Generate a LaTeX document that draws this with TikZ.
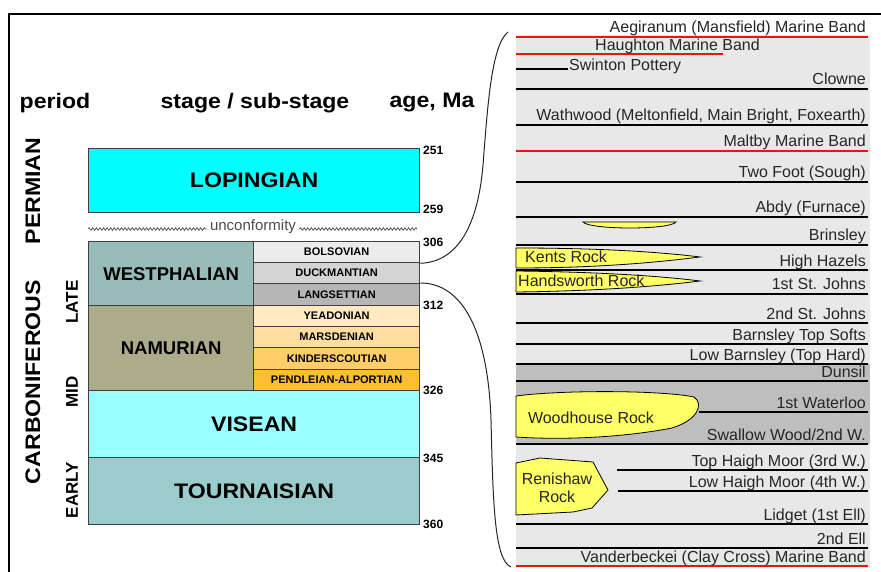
\documentclass[tikz,border=0pt]{standalone}
\usepackage{fontspec}
\setmainfont{Liberation Sans}
\newfontfamily\widefont[FakeStretch=1.1]{Liberation Sans}
\usetikzlibrary{decorations.pathmorphing}

\definecolor{lopcyan}{RGB}{0,255,255}
\definecolor{westgrey}{RGB}{152,188,186}
\definecolor{namkhaki}{RGB}{172,172,138}
\definecolor{viscyan}{RGB}{153,255,255}
\definecolor{tourgrey}{RGB}{155,204,204}
\definecolor{bolsgrey}{RGB}{236,236,236}
\definecolor{duckgrey}{RGB}{212,212,212}
\definecolor{langgrey}{RGB}{182,182,182}
\definecolor{yeadbuff}{RGB}{255,234,192}
\definecolor{marsbuff}{RGB}{255,222,160}
\definecolor{kindbuff}{RGB}{255,206,104}
\definecolor{pendbuff}{RGB}{255,190,52}
\definecolor{panelgrey}{RGB}{232,232,232}
\definecolor{bandgrey}{RGB}{190,190,190}
\definecolor{rockyellow}{RGB}{255,255,102}
\definecolor{bandred}{RGB}{235,20,20}

\tikzset{
  stagebox/.style={draw=black!75, line width=1.3pt, inner sep=0pt, anchor=north west,
    font=\widefont\fontsize{21}{24}\selectfont\bfseries},
  halfbox/.style={stagebox, minimum width=165pt, font=\fontsize{18.5}{21}\selectfont\bfseries},
  subbox/.style={stagebox, minimum width=166pt, font=\fontsize{11}{12}\selectfont\bfseries},
  agelbl/.style={anchor=west, inner sep=0pt, font=\fontsize{12}{13}\selectfont\bfseries},
  headlbl/.style={font=\widefont\fontsize{21}{24}\selectfont\bfseries},
  periodlbl/.style={rotate=90, font=\widefont\fontsize{21}{24}\selectfont\bfseries},
  epochlbl/.style={rotate=90, font=\fontsize{17}{19}\selectfont\bfseries},
  seam/.style={line width=1.8pt},
  seamlbl/.style={anchor=base east, inner sep=0pt, text=black!85, font=\fontsize{16}{18}\selectfont},
  rock/.style={draw=black, line width=0.8pt, fill=rockyellow},
  rocklbl/.style={inner sep=0pt, text=black!85, font=\fontsize{16}{18}\selectfont},
  brace/.style={line width=1pt, black!85}
}

\begin{document}
\begin{tikzpicture}[x=1pt, y=-1pt]
\useasboundingbox (0,0) rectangle (881,572);
\draw[line width=2.2pt] (9,572) -- (9,14) -- (881,14);

% headings
\node[headlbl] (hper) at (55,103) {period};
\node[headlbl] (hstage) at (255,103) {stage / sub-stage};
\node[headlbl] (hage) at (432,103) {age, Ma};

\node[periodlbl] (perm) at (33,191) {PERMIAN};
\node[periodlbl] (carb) at (33,382) {CARBONIFEROUS};
\node[epochlbl] (late) at (72,302) {LATE};
\node[epochlbl] (mid) at (72,392) {MID};
\node[epochlbl] (early) at (72,490) {EARLY};

% stages
\node[stagebox, fill=lopcyan, minimum width=331pt, minimum height=64pt] (lop) at (88,148) {LOPINGIAN};
\node[halfbox, fill=westgrey, minimum height=64pt] (west) at (88,241) {WESTPHALIAN};
\node[halfbox, fill=namkhaki, minimum height=85pt] (nam) at (88,305) {NAMURIAN};
\node[stagebox, fill=viscyan, minimum width=331pt, minimum height=67pt] (vis) at (88,390) {VISEAN};
\node[stagebox, fill=tourgrey, minimum width=331pt, minimum height=67pt] (tour) at (88,457) {TOURNAISIAN};

\node[subbox, fill=bolsgrey, minimum height=21pt] (bols) at (253,241) {BOLSOVIAN};
\node[subbox, fill=duckgrey, minimum height=21pt] (duck) at (253,262) {DUCKMANTIAN};
\node[subbox, fill=langgrey, minimum height=22pt] (lang) at (253,283) {LANGSETTIAN};
\node[subbox, fill=yeadbuff, minimum height=21pt] (yead) at (253,305) {YEADONIAN};
\node[subbox, fill=marsbuff, minimum height=21pt] (mars) at (253,326) {MARSDENIAN};
\node[subbox, fill=kindbuff, minimum height=22pt] (kind) at (253,347) {KINDERSCOUTIAN};
\node[subbox, fill=pendbuff, minimum height=21pt] (pend) at (253,369) {PENDLEIAN-ALPORTIAN};

% unconformity
\node[text=black!70, font=\fontsize{15}{16}\selectfont] (unconf) at (253,227) {unconformity};
\draw[black!70, line width=0.7pt, decorate, decoration={snake, amplitude=1.3pt, segment length=3.6pt}]
  (88,229) -- (unconf.west |- 0,229);
\draw[black!70, line width=0.7pt, decorate, decoration={snake, amplitude=1.3pt, segment length=3.6pt}]
  (unconf.east |- 0,229) -- (417,229);

% ages
\node[agelbl] (a251) at (423,150) {251};
\node[agelbl] (a259) at (423,209) {259};
\node[agelbl] (a306) at (423,242) {306};
\node[agelbl] (a312) at (423,305) {312};
\node[agelbl] (a326) at (423,390) {326};
\node[agelbl] (a345) at (423,458) {345};
\node[agelbl] (a360) at (423,524) {360};

% coal measures column
\fill[panelgrey] (516,35) rectangle (870,567);
\fill[bandgrey] (516,364) rectangle (870,444);
\coordinate (ptop) at (508,32);
\coordinate (pbot) at (511,567);

\foreach \yy/\xs/\col/\lbl [count=\i] in {
  37/516/bandred/{Aegiranum (Mansfield) Marine Band},
  89/516/black/{Clowne},
  125/516/black/{Wathwood (Meltonfield, Main Bright, Foxearth)},
  151/516/bandred/{Maltby Marine Band},
  182/516/black/{Two Foot (Sough)},
  217/516/black/{Abdy (Furnace)},
  245/516/black/{Brinsley},
  270/516/black/{High Hazels},
  294/516/black/{1st St. Johns},
  323/516/black/{2nd St. Johns},
  344/516/black/{Barnsley Top Softs},
  364/516/black/{Low Barnsley (Top Hard)},
  381/516/black/{Dunsil},
  412/699/black/{1st Waterloo},
  444/516/black/{Swallow Wood/2nd W.},
  470/617/black/{Top Haigh Moor (3rd W.)},
  491/618/black/{Low Haigh Moor (4th W.)},
  524/516/black/{Lidget (1st Ell)},
  548/516/black/{2nd Ell},
  566/516/bandred/{Vanderbeckei (Clay Cross) Marine Band}}{
  \draw[seam, draw=\col] (\xs,\yy) -- (868,\yy);
  \node[seamlbl] (seam\i) at (866,\yy-4) {\lbl};
}
\draw[seam, draw=bandred] (516,54) -- (723,54);
\node[seamlbl, anchor=base west] (haugh) at (595,51) {Haughton Marine Band};
\draw[seam] (516,69) -- (568,69);
\node[seamlbl, anchor=west] (swint) at (569,66) {Swinton Pottery};

% sandstones
\filldraw[rock] (583,222) -- (676,222) .. controls (670,230) and (590,230) .. cycle;
\filldraw[rock] (516,248) .. controls (600,248) and (660,252) .. (700,257)
  .. controls (660,262) and (600,268) .. (516,268) -- cycle;
\node[rocklbl, anchor=west] (kents) at (525,257) {Kents Rock};
\filldraw[rock] (516,271) .. controls (600,272) and (660,276) .. (700,281)
  .. controls (660,286) and (600,291) .. (516,292) -- cycle;
\node[rocklbl, anchor=west] (hands) at (518,281) {Handsworth Rock};
\filldraw[rock] (516,396) .. controls (560,390) and (660,390) .. (694,397)
  .. controls (704,404) and (698,420) .. (672,428)
  .. controls (620,438) and (560,440) .. (516,437) -- cycle;
\node[rocklbl] (wood) at (591,418) {Woodhouse Rock};
\filldraw[rock] (516,463) -- (540,458) -- (593,462) -- (608,490) -- (592,508)
  -- (573,512) -- (516,515) -- cycle;
\node[rocklbl, align=center] (renish) at (557,488) {Renishaw\\Rock};

% links
\draw[brace] (bols.south east) .. controls (458,262) and (478,225) .. (483,165)
  .. controls (488,100) and (492,45) .. (ptop);
\draw[brace] (lang.north east) .. controls (462,283) and (488,330) .. (491,420)
  .. controls (493,500) and (494,560) .. (pbot);
\end{tikzpicture}
\end{document}
